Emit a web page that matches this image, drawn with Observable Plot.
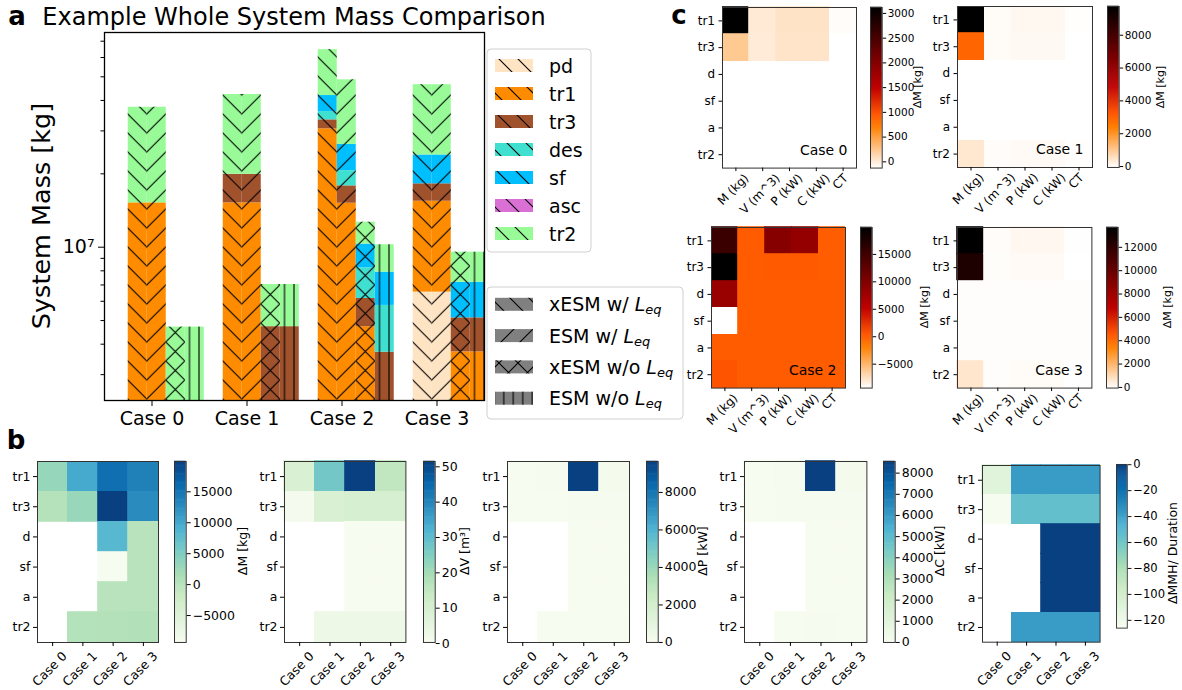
<!DOCTYPE html>
<html>
<head>
<meta charset="utf-8">
<script src="https://cdn.jsdelivr.net/npm/d3@7"></script>
<script src="https://cdn.jsdelivr.net/npm/@observablehq/plot@0.6"></script>
<style>
  body { margin: 0; background: #fff; font-family: "DejaVu Sans", sans-serif; }
  #fig { position: relative; width: 1182px; height: 690px; overflow: hidden; background: #fff; }
  .abs { position: absolute; }
  .lbl { position: absolute; white-space: nowrap; line-height: 1; color: #000; }
</style>
</head>
<body>
<div id="fig"></div>
<script>
// ---------------- data ----------------
const cases = ["Case 0", "Case 1", "Case 2", "Case 3"];
const barTypes = ["xESM w/ Leq", "ESM w/ Leq", "xESM w/o Leq", "ESM w/o Leq"];
const components = ["pd", "tr1", "tr3", "des", "sf", "asc", "tr2"];
const componentColors = ["#ffe4c4", "#ff8c00", "#a0522d", "#40e0d0", "#00bfff", "#da70d6", "#98fb98"];

// component mass [kg]: one row per case, one column per bar type
const massPd  = [[0, 0, 0, 0], [0, 0, 0, 0], [0, 0, 0, 0], [6.54e6, 6.54e6, 0, 0]];
const massTr1 = [[1.52e7, 1.52e7, 0, 0], [1.52e7, 1.52e7, 0, 0], [3.06e7, 1.515e7, 4.72e6, 0], [8.9e6, 8.9e6, 3.72e6, 3.72e6]];
const massTr3 = [[0, 0, 0, 0], [4.7e6, 4.7e6, 4.72e6, 4.72e6], [2.7e6, 2.7e6, 1.44e6, 3.71e6], [2.76e6, 2.76e6, 1.41e6, 1.41e6]];
const massDes = [[0, 0, 0, 0], [0, 0, 0, 0], [2.7e6, 2.75e6, 2.07e6, 2.06e6], [0, 0, 0, 0]];
const massSf  = [[0, 0, 0, 0], [0, 0, 0, 0], [5.9e6, 5.8e6, 2.07e6, 2.13e6], [5.7e6, 5.7e6, 2.05e6, 2.05e6]];
const massAsc = [[0, 0, 0, 0], [0, 0, 0, 0], [0, 0, 0, 0], [0, 0, 0, 0]];
const massTr2 = [[2.23e7, 2.23e7, 4.7e6, 4.7e6], [2.24e7, 2.24e7, 2.31e6, 2.31e6], [2.27e7, 2.22e7, 2.36e6, 2.33e6], [2.25e7, 2.25e7, 2.36e6, 2.36e6]];
const massMinorTicks = [3e6, 4e6, 5e6, 6e6, 7e6, 8e6, 9e6, 2e7, 3e7, 4e7, 5e7, 6e7, 7e7];

// per-subsystem differences: one row per case, one value per subsystem (null = subsystem absent)
const rowLabels = ["tr1", "tr3", "d", "sf", "a", "tr2"];
const metricLabels = ["M (kg)", "V (m^3)", "P (kW)", "C (kW)", "CT"];
const deltaM   = [[3120, 220, null, null, null, null], [9750, 2900, null, null, null, 400], [15500, 19900, 8200, -9350, 0, 450], [13700, 12650, 0, 0, 0, 630]];
const deltaV   = [[9, 1, null, null, null, null], [27, 9, null, null, null, 3], [51.5, 10, 0.3, 0.3, 0.3, 3], [15, 10, 0.3, 0.3, 0.3, 3]];
const deltaP   = [[55, 45, null, null, null, null], [80, 60, null, null, null, 40], [9650, 100, 0, 0, 0, 60], [150, 80, 0, 0, 0, 50]];
const deltaC   = [[55, 45, null, null, null, null], [80, 60, null, null, null, 40], [8550, 100, 0, 0, 0, 60], [150, 80, 0, 0, 0, 50]];
const deltaMMH = [[-110, -126, null, null, null, null], [-38, -55, null, null, null, -38], [-38, -55, 0, 0, 0, -38], [-38, -55, 0, 0, 0, -38]];

const caseBarTicks = [
  [0, 500, 1000, 1500, 2000, 2500, 3000],
  [0, 2000, 4000, 6000, 8000],
  [-5000, 0, 5000, 10000, 15000],
  [0, 2000, 4000, 6000, 8000, 10000, 12000]
];
const metricBarLabels = ["ΔM [kg]", "ΔV [m³]", "ΔP [kW]", "ΔC [kW]", "ΔMMH/ Duration"];
const metricBarTicks = [
  [-5000, 0, 5000, 10000, 15000],
  [0, 10, 20, 30, 40, 50],
  [0, 2000, 4000, 6000, 8000],
  [0, 1000, 2000, 3000, 4000, 5000, 6000, 7000, 8000],
  [-120, -100, -80, -60, -40, -20, 0]
];

// ---------------- helpers ----------------
const FONT = "DejaVu Sans";
const fig = document.getElementById("fig");
const ctx = document.createElement("canvas").getContext("2d");
const measure = (s, size) => { ctx.font = `${size}px "${FONT}"`; return ctx.measureText(s).width; };
const fmt = d => (d < 0 ? "\u2212" : "") + Math.abs(d);

function place(node, left, top) {
  const d = document.createElement("div");
  d.className = "abs";
  d.style.left = left + "px";
  d.style.top = top + "px";
  d.appendChild(node);
  fig.appendChild(d);
  return d;
}

function label(str, x, y, { size = 12, weight = "normal", rotate = 0 } = {}) {
  const el = document.createElement("div");
  el.className = "lbl";
  el.style.left = x + "px";
  el.style.top = y + "px";
  el.style.fontSize = size + "px";
  el.style.fontWeight = weight;
  el.style.transform = `translate(-50%,-50%) rotate(${rotate}deg)`;
  el.textContent = str;
  fig.appendChild(el);
}

const baseStyle = { fontFamily: FONT, color: "#000", background: "transparent", overflow: "visible" };

// matplotlib-style colormaps
const gistHeatR = t => {
  const x = 1 - Math.max(0, Math.min(1, t));
  const c = v => Math.round(255 * Math.max(0, Math.min(1, v)));
  return `rgb(${c(1.5 * x)},${c(2 * x - 1)},${c(4 * x - 3)})`;
};
const gnBu = d3.piecewise(d3.interpolateRgb, d3.schemeGnBu[9]);

// hatch patterns
const defs = d3.select(fig).append("svg")
  .attr("width", 0).attr("height", 0)
  .style("position", "absolute").style("left", 0).style("top", 0)
  .append("defs");
const HP = 19;
const hatchPaths = {
  back: `M-2,-2L${HP + 2},${HP + 2}M${HP - 2},-2L${HP + 2},2M-2,${HP - 2}L2,${HP + 2}`,
  fwd: `M-2,${HP + 2}L${HP + 2},-2M-2,2L2,-2M${HP - 2},${HP + 2}L${HP + 2},${HP - 2}`,
  vert: `M${HP / 4},-1V${HP + 1}`
};
function hatch(id, kind, x0) {
  const p = defs.append("pattern").attr("id", id)
    .attr("patternUnits", "userSpaceOnUse")
    .attr("x", x0).attr("y", 0)
    .attr("width", kind === "vert" ? HP / 2 : HP).attr("height", HP);
  const d = kind === "cross" ? hatchPaths.back + hatchPaths.fwd : hatchPaths[kind];
  p.append("path").attr("d", d).attr("fill", "none").attr("stroke", "#000").attr("stroke-width", 1.1);
}
const hatchKinds = ["back", "fwd", "cross", "vert"];

// ---------------- panel a: stacked mass bars ----------------
const massTables = [massPd, massTr1, massTr3, massDes, massSf, massAsc, massTr2];
const yFloor = 1e6;
const segments = [];
const totals = [];
cases.forEach((c, i) => {
  barTypes.forEach((t, k) => {
    const x1 = i - 0.25 + 0.2 * k, x2 = x1 + 0.2;
    let base = 0;
    components.forEach((comp, j) => {
      const m = massTables[j][i][k];
      if (m > 0) segments.push({ comp, x1, x2, y1: Math.max(base, yFloor), y2: base + m });
      base += m;
    });
    totals.push({ k, x1, x2, y1: yFloor, y2: base });
  });
});

const plotA = Plot.plot({
  width: 486, height: 440,
  marginLeft: 104, marginRight: 2, marginTop: 32, marginBottom: 40,
  x: { type: "linear", domain: [-0.5, 3.5], label: null },
  y: { type: "log", domain: [2.35e6, 7.6e7], label: null },
  color: { type: "ordinal", domain: components, range: componentColors },
  style: { ...baseStyle, fontSize: "19px" },
  marks: [
    Plot.rect(segments, { x1: "x1", x2: "x2", y1: "y1", y2: "y2", fill: "comp", clip: true }),
    ...barTypes.map((t, k) => Plot.rect(totals.filter(d => d.k === k), {
      x1: "x1", x2: "x2", y1: "y1", y2: "y2", fill: `url(#hatchA${k})`, clip: true
    })),
    Plot.frame({ stroke: "#000", strokeWidth: 1.3 }),
    Plot.axisY({ ticks: [1e7], tickFormat: () => "10\u2077", tickSize: 6, tickPadding: 4, fontSize: 19, label: null }),
    Plot.axisY({ ticks: massMinorTicks, tickFormat: () => "", tickSize: 3.5, label: null }),
    Plot.axisX({ ticks: [0, 1, 2, 3], tickFormat: i => cases[i], tickSize: 6, tickPadding: 5, fontSize: 19, label: null })
  ]
});
place(plotA, 0, 0);
// align the hatch tiles on the boundary between the first two bars of each group
const seam = plotA.scale("x").apply(-0.05);
hatchKinds.forEach((kind, k) => hatch(`hatchA${k}`, kind, seam));
hatchKinds.forEach((kind, k) => hatch(`hatchL${k}`, kind, 0));
hatch("hatchLc", "back", 0);

label("Example Whole System Mass Comparison", 294, 17, { size: 24 });
label("System Mass [kg]", 42, 216, { size: 25.5, rotate: -90 });
label("a", 17, 16, { size: 26, weight: "bold" });
label("b", 16, 440, { size: 26, weight: "bold" });
label("c", 679, 15, { size: 26, weight: "bold" });

// legends for panel a
const leg = d3.select(fig).append("svg")
  .attr("width", 210).attr("height", 390)
  .style("position", "absolute").style("left", "480px").style("top", "40px")
  .attr("font-family", FONT);
leg.append("rect").attr("x", 7).attr("y", 9).attr("width", 104).attr("height", 203).attr("rx", 4)
  .attr("fill", "#fff").attr("fill-opacity", 0.8).attr("stroke", "#d0d0d0");
components.forEach((comp, j) => {
  const cy = 25.5 + 28 * j;
  leg.append("rect").attr("x", 15).attr("y", cy - 6.5).attr("width", 38).attr("height", 13).attr("fill", componentColors[j]);
  leg.append("rect").attr("x", 15).attr("y", cy - 6.5).attr("width", 38).attr("height", 13).attr("fill", "url(#hatchLc)");
  leg.append("text").attr("x", 69).attr("y", cy).attr("dominant-baseline", "central").attr("font-size", 19).text(comp);
});
leg.append("rect").attr("x", 7).attr("y", 247).attr("width", 196).attr("height", 132).attr("rx", 4)
  .attr("fill", "#fff").attr("fill-opacity", 0.8).attr("stroke", "#d0d0d0");
barTypes.forEach((t, k) => {
  const cy = 264.3 + 31.3 * k;
  leg.append("rect").attr("x", 15).attr("y", cy - 6.5).attr("width", 38).attr("height", 13).attr("fill", "#808080");
  leg.append("rect").attr("x", 15).attr("y", cy - 6.5).attr("width", 38).attr("height", 13).attr("fill", `url(#hatchL${k})`);
  const txt = leg.append("text").attr("x", 69).attr("y", cy).attr("dominant-baseline", "central")
    .attr("font-size", 19).style("white-space", "pre");
  txt.append("tspan").text(t.replace("Leq", ""));
  txt.append("tspan").attr("font-style", "italic").text("L");
  txt.append("tspan").attr("font-style", "italic").attr("font-size", 13).attr("dy", 5).text("eq");
});

// ---------------- heatmaps and colorbars ----------------
function heatmap(o) {
  const mL = 45, mT = 5, mR = 5, mB = 70;
  const marks = [
    Plot.cell(o.cells, { x: "col", y: "row", fill: "v", stroke: "v", strokeWidth: 0.8, inset: 0, shapeRendering: "crispEdges" }),
    Plot.frame({ stroke: "#333", strokeWidth: 1 }),
    Plot.axisY({ tickSize: o.tick, tickPadding: o.pad, fontSize: o.font, label: null }),
    Plot.axisX({ tickSize: o.tick, tickFormat: () => "", label: null }),
    ...o.cols.map(c => {
      const L = measure(c, o.font);
      const dy = o.tick + o.gap + (L + o.font) * Math.SQRT1_2 / 2;
      return Plot.text([c], { x: d => d, frameAnchor: "bottom", dy, rotate: -45, fontSize: o.font, textAnchor: "middle" });
    })
  ];
  if (o.note) marks.push(Plot.text([o.note], { frameAnchor: "bottom-right", dx: -9, dy: -13.5, fontSize: 14, textAnchor: "end" }));
  const p = Plot.plot({
    width: mL + o.w + mR, height: mT + o.h + mB,
    marginLeft: mL, marginRight: mR, marginTop: mT, marginBottom: mB,
    x: { domain: o.cols, padding: 0, round: false, label: null },
    y: { domain: rowLabels, padding: 0, round: false, label: null },
    color: { type: "linear", domain: o.domain, interpolate: o.interp, clamp: true },
    style: { ...baseStyle, fontSize: o.font + "px" },
    marks
  });
  place(p, o.left - mL, o.top - mT);
}

function colorbar(o) {
  const mT = 10, mB = 10, mR = 60;
  const [lo, hi] = o.domain;
  const n = 160;
  const slices = d3.range(n).map(i => ({
    v0: lo + (hi - lo) * i / n,
    v1: lo + (hi - lo) * (i + 1) / n,
    v: lo + (hi - lo) * (i + 0.5) / n
  }));
  const p = Plot.plot({
    width: o.w + mR, height: o.h + mT + mB,
    marginLeft: 0, marginRight: mR, marginTop: mT, marginBottom: mB,
    x: { domain: [0, 1], axis: null },
    y: { domain: o.domain, label: null },
    color: { type: "linear", domain: o.domain, interpolate: o.interp, clamp: true },
    style: { ...baseStyle, fontSize: o.font + "px" },
    marks: [
      Plot.rect(slices, { x1: () => 0, x2: () => 1, y1: "v0", y2: "v1", fill: "v", insetTop: -0.3, insetBottom: -0.3 }),
      Plot.frame({ stroke: "#333", strokeWidth: 1 }),
      Plot.axisY({ anchor: "right", ticks: o.ticks, tickFormat: fmt, tickSize: o.tick, tickPadding: o.pad, fontSize: o.font, label: null })
    ]
  });
  place(p, o.left, o.top - mT);
}

// panel c: one heatmap per case, all quantities on one colour scale
const metricTables = [deltaM, deltaV, deltaP, deltaC, deltaMMH];
const caseFrames = [
  { left: 721.7, top: 6.7, w: 134, h: 160.6, cb: 870, lx: 917 },
  { left: 956.7, top: 6.2, w: 135, h: 161, cb: 1106.7, lx: 1160 },
  { left: 711, top: 226.7, w: 134, h: 160.6, cb: 860, lx: 923.5 },
  { left: 957.3, top: 226.7, w: 134.4, h: 160.6, cb: 1105.7, lx: 1167 }
];
cases.forEach((c, i) => {
  const cells = [];
  metricTables.forEach((tab, m) => tab[i].forEach((v, r) => {
    if (v !== null) cells.push({ col: metricLabels[m], row: rowLabels[r], v });
  }));
  const domain = d3.extent(cells, d => d.v);
  const f = caseFrames[i];
  heatmap({ ...f, cols: metricLabels, cells, domain, interp: gistHeatR, font: 12, tick: 3.5, pad: 4, gap: 3, note: c });
  colorbar({ left: f.cb, top: f.top, w: 11.7, h: f.h, domain, interp: gistHeatR, ticks: caseBarTicks[i], font: 10.5, tick: 3.5, pad: 2 });
  label("ΔM [kg]", f.lx, f.top + f.h / 2, { size: 11, rotate: -90 });
});

// panel b: one heatmap per quantity, cases along x
const metricFrames = [
  { left: 37.3, top: 460.7, w: 121, h: 181, cb: 174.3, lx: 243 },
  { left: 284.3, top: 460.7, w: 121.4, h: 181, cb: 422.7, lx: 465 },
  { left: 507.3, top: 460.7, w: 122, h: 181, cb: 645.7, lx: 703 },
  { left: 744.3, top: 460.7, w: 122.4, h: 181, cb: 882.7, lx: 940 },
  { left: 981.7, top: 465, w: 117.6, h: 176.7, cb: 1115.7, lx: 1173 }
];
metricTables.forEach((tab, m) => {
  const cells = [];
  tab.forEach((vals, i) => vals.forEach((v, r) => {
    if (v !== null) cells.push({ col: cases[i], row: rowLabels[r], v });
  }));
  const domain = d3.extent(cells, d => d.v);
  const f = metricFrames[m];
  heatmap({ ...f, cols: cases, cells, domain, interp: gnBu, font: 12.5, tick: 4, pad: 3, gap: 6 });
  colorbar({ left: f.cb, top: f.top, w: 11.7, h: f.h, domain, interp: gnBu, ticks: metricBarTicks[m], font: 12.5, tick: 4, pad: 2.5 });
  label(metricBarLabels[m], f.lx, f.top + f.h / 2, { size: 12.5, rotate: -90 });
});
</script>
</body>
</html>
